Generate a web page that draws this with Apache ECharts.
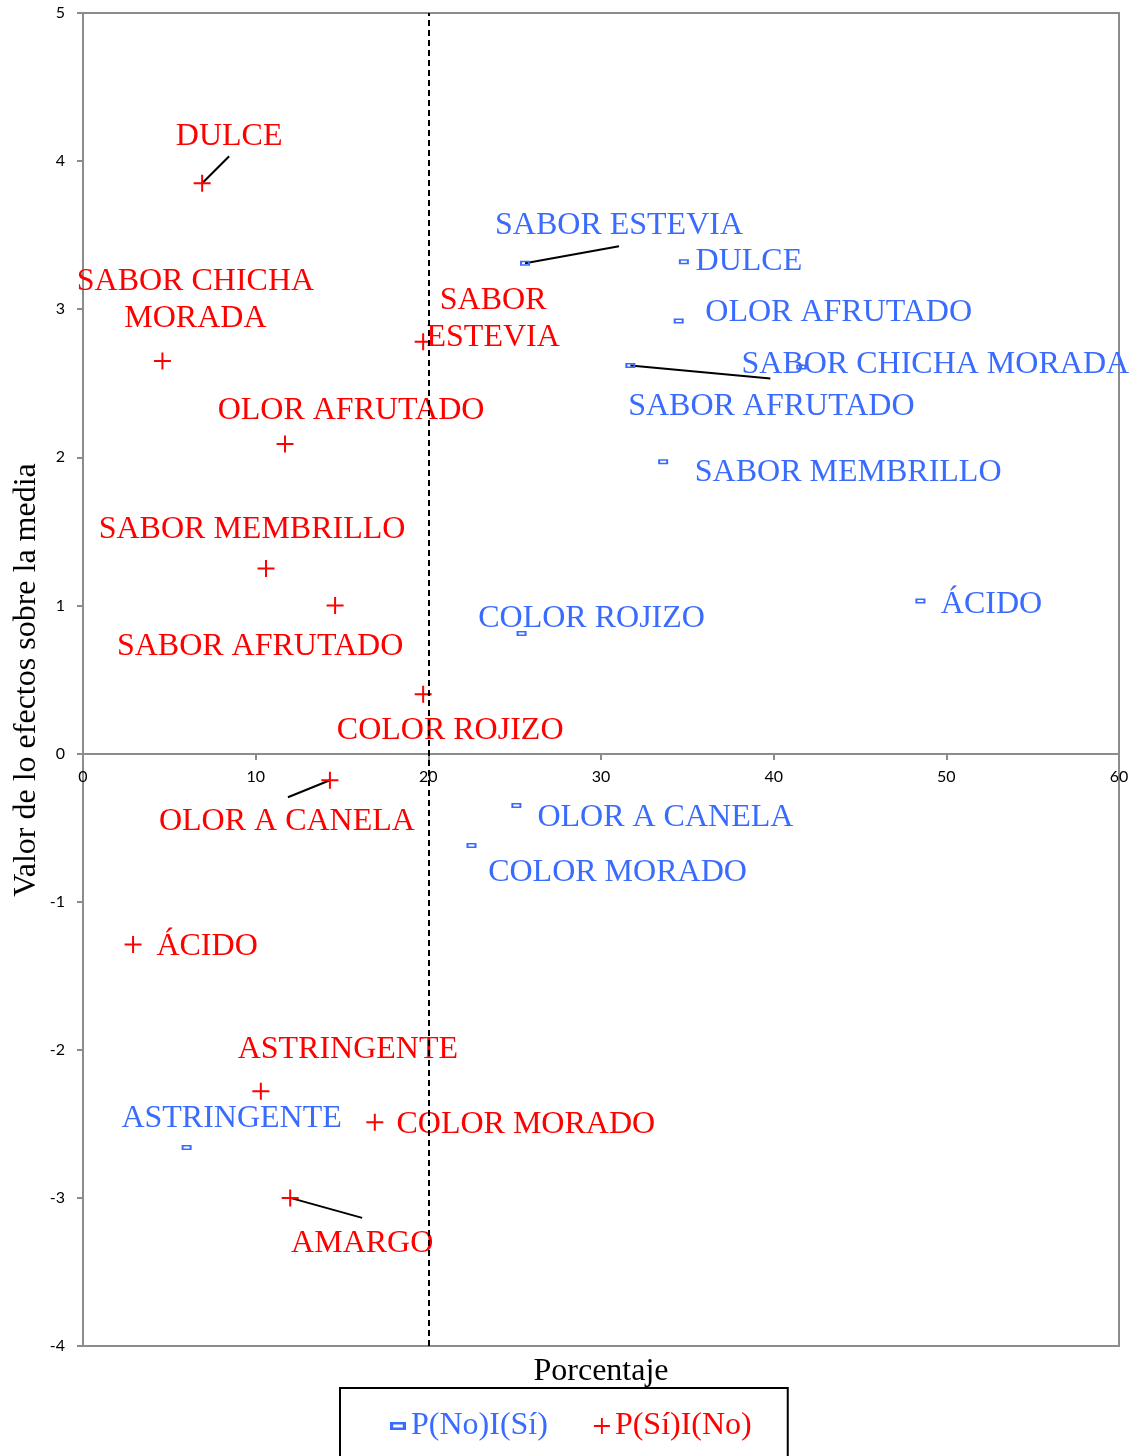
<!DOCTYPE html>
<html>
<head>
<meta charset="utf-8">
<script src="https://cdn.jsdelivr.net/npm/echarts@6/dist/echarts.min.js"></script>
<style>
  html, body { margin: 0; padding: 0; background: #fff; }
  #chart { width: 1137px; height: 1456px; }
</style>
</head>
<body>
<div id="chart"></div>
<script>
// Attributes: percentage of respondents (x) and effect on the mean score (y)
const noSiLabels = ['SABOR ESTEVIA', 'DULCE', 'OLOR AFRUTADO', 'SABOR CHICHA MORADA', 'SABOR AFRUTADO',
  'SABOR MEMBRILLO', 'ÁCIDO', 'COLOR ROJIZO', 'OLOR A CANELA', 'COLOR MORADO', 'ASTRINGENTE'];
const noSiPct    = [25.6, 34.8, 34.5, 41.6, 31.7, 33.6, 48.5, 25.4, 25.1, 22.5, 6.0];
const noSiEffect = [3.31, 3.32, 2.92, 2.61, 2.62, 1.97, 1.03, 0.81, -0.35, -0.62, -2.66];

const siNoLabels = ['DULCE', 'SABOR CHICHA\nMORADA', 'SABOR\nESTEVIA', 'OLOR AFRUTADO', 'SABOR MEMBRILLO',
  'SABOR AFRUTADO', 'COLOR ROJIZO', 'OLOR A CANELA', 'ÁCIDO', 'ASTRINGENTE', 'COLOR MORADO', 'AMARGO'];
const siNoPct    = [6.9, 4.6, 19.7, 11.7, 10.6, 14.6, 19.7, 14.3, 2.9, 10.3, 16.9, 12.0];
const siNoEffect = [3.85, 2.65, 2.78, 2.09, 1.25, 1.0, 0.40, -0.18, -1.29, -2.28, -2.49, -3.0];

const xTicks = { min: 0, max: 60, step: 10 };
const yTicks = { min: -4, max: 5, step: 1 };
const cutoffPct = 20;

// Label placement (pixel offsets from each marker)
const noSiLabelOffsets = [[94, -38], [65, 0], [160, -8], [134, -2], [141, 41], [185, 11],
  [71, 4], [70, -15], [149, 12], [146, 27], [45, -29]];
const siNoLabelOffsets = [[27, -47], [33, -61], [70, -23], [66, -33], [-14, -39], [-75, 41],
  [27, 36], [-43, 41], [74, 2], [87, -42], [151, 2], [72, 46]];
// Leader lines: segment from (start) to (end), pixel offsets from the marker; null = no leader
const noSiLeaders = [[[0, 0], [94, -17]], null, null, null, [[0, 0], [140, 13]], null, null, null, null, null, null];
const siNoLeaders = [[[0, 0], [27, -27]], null, null, null, null, null, null, [[0, 0], [-42, 17]], null, null, null, [[0, 0], [72, 20]]];

const BLUE = '#3a6bff';
const RED = '#ff0000';
const AXIS_GRAY = '#8c8c8c';
const SERIF = '"Liberation Serif", "Times New Roman", serif';

// Hollow rectangle and thin plus marker shapes
const rectSymbol = 'path://M0,0H10V5H0Z M2,1.5V3.5H8V1.5Z';
const plusSymbol = 'path://M7.5,0h2v7.5h7.5v2h-7.5v7.5h-2v-7.5h-7.5v-2h7.5z';

function buildPoints(pct, eff, labels) {
  return pct.map((x, i) => ({ value: [x, eff[i]], name: labels[i] }));
}

function labelLayoutFor(offsets) {
  return p => ({ dx: offsets[p.dataIndex][0], dy: offsets[p.dataIndex][1] });
}

// Points that carry a leader line
const leaderSegments = [];
function collectLeaders(pct, eff, leaders) {
  leaders.forEach((seg, i) => {
    if (seg) leaderSegments.push({ value: [pct[i], eff[i]], seg: seg });
  });
}
collectLeaders(noSiPct, noSiEffect, noSiLeaders);
collectLeaders(siNoPct, siNoEffect, siNoLeaders);

const chart = echarts.init(document.getElementById('chart'));

const labelBase = {
  show: true,
  position: 'inside',
  formatter: p => p.name,
  fontFamily: SERIF,
  fontSize: 32,
  lineHeight: 37,
  align: 'center',
  verticalAlign: 'middle'
};

// The x axis sits on y = 0: grid height spans 9 units, zero is 4 units above the bottom
const GRID_H = 1456 - 13 - 110;
const xAxisOffset = -Math.round(GRID_H * (0 - yTicks.min) / (yTicks.max - yTicks.min));

chart.setOption({
  animation: false,
  grid: {
    left: 83, right: 18, top: 13, bottom: 110,
    show: true, borderColor: AXIS_GRAY, borderWidth: 2, backgroundColor: 'transparent'
  },
  xAxis: {
    type: 'value',
    position: 'bottom',
    offset: xAxisOffset,
    min: xTicks.min, max: xTicks.max, interval: xTicks.step,
    axisLine: { show: true, onZero: false, lineStyle: { color: AXIS_GRAY, width: 2 } },
    axisTick: { show: true, length: 6, lineStyle: { color: AXIS_GRAY, width: 2 } },
    axisLabel: { color: '#000', fontFamily: 'Lato', fontSize: 16, margin: 15 },
    splitLine: { show: false }
  },
  yAxis: {
    type: 'value',
    min: yTicks.min, max: yTicks.max, interval: yTicks.step,
    axisLine: { show: true, onZero: false, lineStyle: { color: AXIS_GRAY, width: 2 } },
    axisTick: { show: true, length: 6, lineStyle: { color: AXIS_GRAY, width: 2 } },
    axisLabel: { color: '#000', fontFamily: 'Lato', fontSize: 16, margin: 18 },
    splitLine: { show: false }
  },
  legend: {
    left: 340, top: 1388,
    orient: 'horizontal',
    borderColor: '#000', borderWidth: 2,
    padding: [22, 36, 38, 50],
    itemGap: 46,
    itemWidth: 16, itemHeight: 16,
    textStyle: { fontFamily: SERIF, fontSize: 32 },
    data: [
      { name: 'P(No)I(Sí)', textStyle: { color: BLUE } },
      { name: 'P(Sí)I(No)', textStyle: { color: RED } }
    ]
  },
  graphic: [
    {
      type: 'text', x: 601, y: 1372,
      style: {
        text: 'Porcentaje', fontFamily: SERIF, fontSize: 32, fill: '#000',
        align: 'center', verticalAlign: 'middle'
      }
    },
    {
      type: 'text', x: 27, y: 680, rotation: Math.PI / 2,
      style: {
        text: 'Valor de lo efectos sobre la media', fontFamily: SERIF, fontSize: 32,
        fill: '#000', align: 'center', verticalAlign: 'middle'
      }
    }
  ],
  series: [
    {
      name: 'leaders',
      type: 'custom',
      silent: true,
      z: 2,
      data: leaderSegments.map(d => d.value),
      renderItem: (params, api) => {
        const seg = leaderSegments[params.dataIndex].seg;
        const c = api.coord([api.value(0), api.value(1)]);
        return {
          type: 'line',
          shape: {
            x1: c[0] + seg[0][0], y1: c[1] + seg[0][1],
            x2: c[0] + seg[1][0], y2: c[1] + seg[1][1]
          },
          style: { stroke: '#000', lineWidth: 2 }
        };
      }
    },
    {
      name: 'P(No)I(Sí)',
      type: 'scatter',
      symbol: rectSymbol,
      symbolSize: [10, 5],
      itemStyle: { color: BLUE, opacity: 1 },
      data: buildPoints(noSiPct, noSiEffect, noSiLabels),
      label: Object.assign({}, labelBase, { color: BLUE }),
      labelLayout: labelLayoutFor(noSiLabelOffsets),
      z: 3
    },
    {
      name: 'P(Sí)I(No)',
      type: 'scatter',
      symbol: plusSymbol,
      symbolSize: 17,
      itemStyle: { color: RED, opacity: 1 },
      data: buildPoints(siNoPct, siNoEffect, siNoLabels),
      label: Object.assign({}, labelBase, { color: RED }),
      labelLayout: labelLayoutFor(siNoLabelOffsets),
      markLine: {
        silent: true,
        symbol: 'none',
        label: { show: false },
        lineStyle: { color: '#000', type: [6, 4], width: 2 },
        data: [{ xAxis: cutoffPct }]
      },
      z: 3
    }
  ]
});
</script>
</body>
</html>
